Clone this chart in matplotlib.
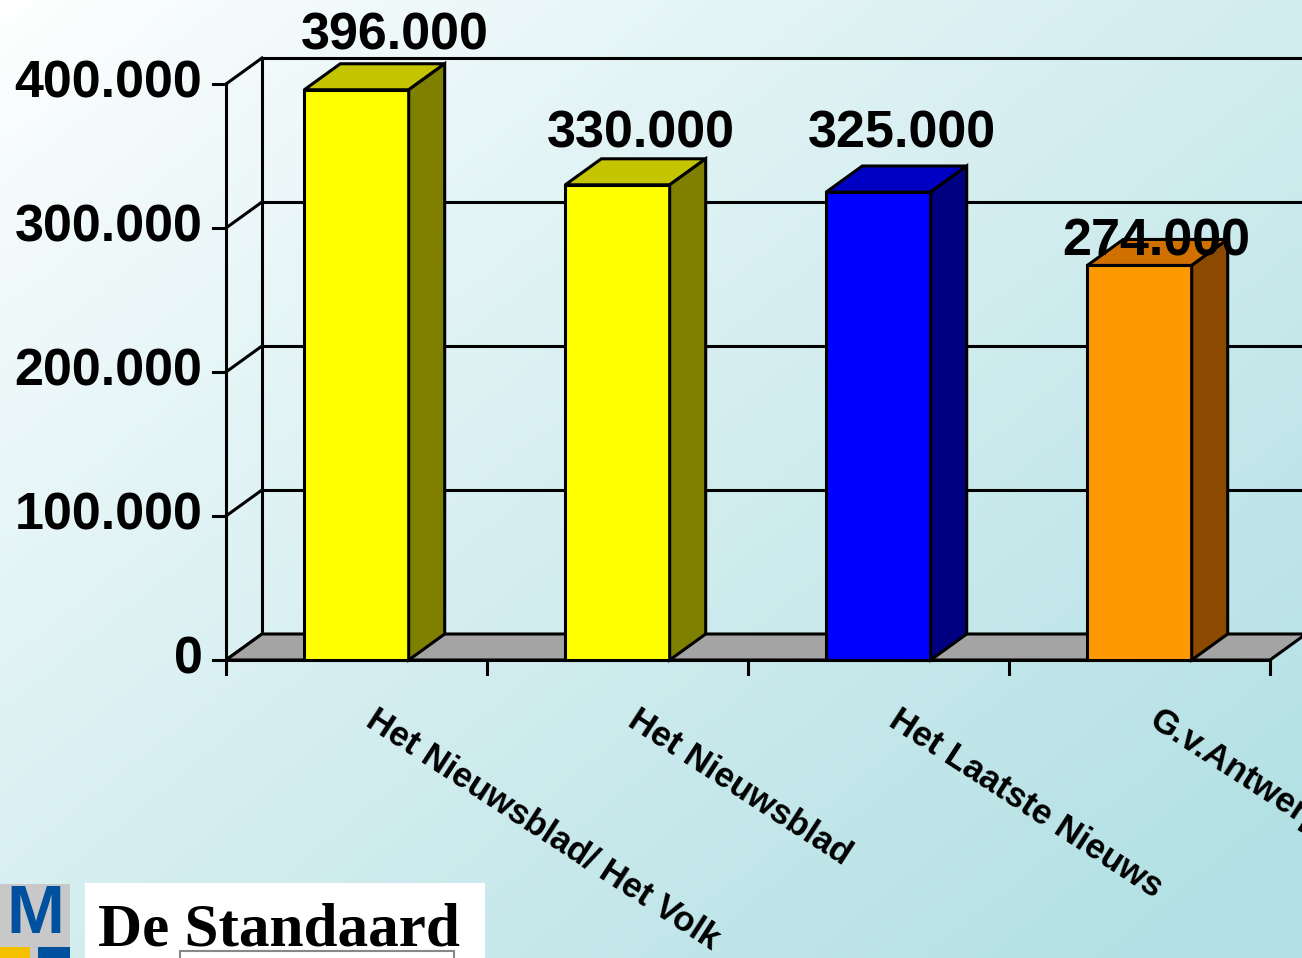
"""
Oplage kranten - 3D staafdiagram
"""

import numpy as np
import matplotlib
matplotlib.use("Agg")
import matplotlib.pyplot as plt
from matplotlib.patches import Polygon, Rectangle
from matplotlib.colors import to_rgb

# data
kranten = ["Het Nieuwsblad/ Het Volk", "Het Nieuwsblad", "Het Laatste Nieuws", "G.v.Antwerpen"]
oplage = [396000, 330000, 325000, 274000]
labels = ["396.000", "330.000", "325.000", "274.000"]
yticks = [0, 100000, 200000, 300000, 400000]
ytick_labels = ["0", "100.000", "200.000", "300.000", "400.000"]

# kleuren (voorkant, bovenkant, zijkant)
kleuren = [
    ("#ffff00", "#c4c400", "#808000"),
    ("#ffff00", "#c4c400", "#808000"),
    ("#0000ff", "#0000c4", "#000080"),
    ("#ff9900", "#d07000", "#8c4a00"),
]

W, H = 1302, 958
fig = plt.figure(figsize=(W / 100, H / 100), dpi=100)
plt.rcParams["font.family"] = ["Liberation Sans", "DejaVu Sans"]

# achtergrond met verloop
bg = fig.add_axes([0, 0, 1, 1], zorder=-10)
gx, gy = np.meshgrid(np.linspace(0, 1, 300), np.linspace(0, 1, 220))
t = np.clip(0.55 * gx + 0.5 * gy, 0, 1) ** 0.9
c0 = np.array(to_rgb("#ffffff"))
c1 = np.array(to_rgb("#b2e0e4"))
img = c0[None, None, :] * (1 - t[..., None]) + c1[None, None, :] * t[..., None]
bg.imshow(img, extent=[0, 1, 0, 1], aspect="auto", origin="upper")
bg.set_axis_off()

# grafiek
ax = fig.add_axes([226 / W, 1 - 660 / H, 1044 / W, 576 / H])
ax.patch.set_alpha(0)
ax.set_xlim(0, 4)
ax.set_ylim(0, 400000)
ax.set_axis_off()

DX = 36 / (1044 / 4)        # diepte in x (categorie-eenheden)
DY = 26 / (576 / 400000)    # diepte in y (waarde-eenheden)
LW = 2.2
XR = 4 + DX + 0.2

# vloer
ax.add_patch(Polygon([(0, 0), (4, 0), (4 + DX, DY), (XR, DY), (XR, DY), (DX, DY)],
                     closed=True, facecolor="#a4a4a4", edgecolor="black", lw=LW,
                     clip_on=False, zorder=1))
# rasterlijnen op de achterwand + zijwand
for v, lab in zip(yticks, ytick_labels):
    ax.plot([DX, XR], [v + DY, v + DY], color="black", lw=LW, clip_on=False, zorder=0.5)
    ax.plot([0, DX], [v, v + DY], color="black", lw=LW, clip_on=False, zorder=0.5)
    ax.plot([-0.05, 0], [v, v], color="black", lw=LW, clip_on=False)
    ax.annotate(lab, (0, v), xytext=(-17, 0),
                textcoords="offset points", ha="right", va="center",
                fontsize=37.5, fontweight="bold")
ax.plot([0, 0], [0, 400000], color="black", lw=LW, clip_on=False)
ax.plot([DX, DX], [DY, 400000 + DY], color="black", lw=LW, clip_on=False, zorder=0.5)
ax.plot([0, 4], [0, 0], color="black", lw=LW, clip_on=False, zorder=2)
for i in range(5):
    ax.plot([i, i], [0, -9500], color="black", lw=LW, clip_on=False)

# staven
bw = 0.4
label_gap_px = [3, 0, 7, -27]
label_shift_px = [20, 5, 5, -1]
for i, (v, (cf, ct, cs)) in enumerate(zip(oplage, kleuren)):
    x0 = i + 0.5 - bw / 2
    x1 = x0 + bw
    ax.bar(i + 0.5, v, width=bw, color=cf, edgecolor="black", lw=LW, zorder=3, clip_on=False)
    ax.add_patch(Polygon([(x0, v), (x1, v), (x1 + DX, v + DY), (x0 + DX, v + DY)],
                         closed=True, facecolor=ct, edgecolor="black", lw=LW, zorder=3,
                         clip_on=False))
    ax.add_patch(Polygon([(x1, 0), (x1 + DX, DY), (x1 + DX, v + DY), (x1, v)],
                         closed=True, facecolor=cs, edgecolor="black", lw=LW, zorder=3,
                         clip_on=False))
    ax.annotate(labels[i], (i + 0.5 + DX / 2, v + DY),
                xytext=(label_shift_px[i] * 0.72, label_gap_px[i] * 0.72),
                textcoords="offset points", ha="center", va="bottom",
                fontsize=37.5, fontweight="bold", zorder=5, annotation_clip=False)
    ax.annotate(kranten[i], (i + 0.5, 0), xytext=(16, -31),
                textcoords="offset points", ha="left", va="top",
                rotation=-33, rotation_mode="anchor",
                fontsize=25, fontweight="bold", annotation_clip=False)

# logo
logo = fig.add_axes([0, 0, 1, 1], zorder=-5)
logo.set_xlim(0, W)
logo.set_ylim(H, 0)
logo.set_axis_off()
logo.patch.set_alpha(0)
logo.add_patch(Rectangle((0, 884), 70, 80, facecolor="#c8c8c8", edgecolor="none"))
logo.add_patch(Rectangle((0, 947), 30, 20, facecolor="#f5c000", edgecolor="none"))
logo.add_patch(Rectangle((38, 947), 32, 20, facecolor="#0050a0", edgecolor="none"))
logo.text(35, 915, "M", ha="center", va="center", fontsize=50, fontweight="bold",
          color="#0050a0", family="Liberation Sans")
logo.add_patch(Rectangle((85, 883), 400, 80, facecolor="white", edgecolor="none"))
logo.text(98, 945, "De Standaard", ha="left", va="baseline", fontsize=44,
          fontweight="bold", family="Liberation Serif", color="black")
logo.add_patch(Rectangle((180, 951), 274, 12, facecolor="white", edgecolor="#888888", lw=1.5))

fig.savefig("out.png", dpi=100)
